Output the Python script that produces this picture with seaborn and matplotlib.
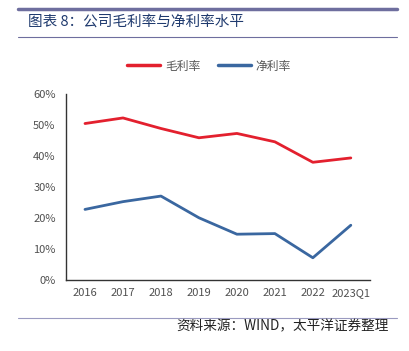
import numpy as np
import pandas as pd
import matplotlib
matplotlib.use("Agg")
import matplotlib.pyplot as plt
import seaborn as sns
from matplotlib.ticker import FuncFormatter, MultipleLocator

# 数据
years = ["2016", "2017", "2018", "2019", "2020", "2021", "2022", "2023Q1"]
gross_margin = [50.5, 52.3, 48.9, 45.9, 47.3, 44.6, 38.0, 39.4]
net_margin = [22.8, 25.3, 27.1, 20.1, 14.8, 15.0, 7.2, 17.7]

df = pd.DataFrame({
    "year": years * 2,
    "value": gross_margin + net_margin,
    "series": ["毛利率"] * len(years) + ["净利率"] * len(years),
})
df["pos"] = list(range(len(years))) * 2

sns.set_style("white")
plt.rcParams['font.family'] = ['Noto Sans CJK SC', 'DejaVu Sans']

fig = plt.figure(figsize=(4.10, 3.51), dpi=100)
ax = fig.add_axes([0.161, 0.202, 0.741, 0.530])

sns.lineplot(data=df, x="pos", y="value", hue="series",
             palette={"毛利率": "#E3202E", "净利率": "#3A67A0"},
             linewidth=2, ax=ax, legend=False)

ax.set_xlim(-0.5, len(years) - 0.5)
ax.set_ylim(0, 60)
ax.yaxis.set_major_locator(MultipleLocator(10))
ax.yaxis.set_major_formatter(FuncFormatter(lambda v, p: f"{v:.0f}%"))
ax.set_xticks(range(len(years)))
ax.set_xticklabels(years)
ax.set_xticks(np.arange(-0.5, len(years)), minor=True)
ax.tick_params(axis="x", which="major", length=0, pad=6, labelsize=8, labelcolor="#505050")
ax.tick_params(axis="x", which="minor", length=4, width=1, color="#333333", direction="out")
ax.tick_params(axis="y", length=4, width=1, color="#333333", direction="out", labelsize=8, labelcolor="#505050")
ax.set_xlabel("")
ax.set_ylabel("")
for s in ["top", "right"]:
    ax.spines[s].set_visible(False)
for s in ["left", "bottom"]:
    ax.spines[s].set_color("#333333")
    ax.spines[s].set_linewidth(1)

# 图例
h1, = ax.plot([], [], color="#E3202E", lw=2.5, label="毛利率")
h2, = ax.plot([], [], color="#3A67A0", lw=2.5, label="净利率")
fig.legend(handles=[h1, h2], loc="center", bbox_to_anchor=(0.51, 0.812), ncol=2,
           frameon=False, fontsize=8.5, handlelength=2.8, columnspacing=1.5,
           handletextpad=0.4, labelcolor="#555555")

# 标题与线条
fig.add_artist(plt.Line2D([0.045, 0.968], [0.975, 0.975], color="#6E6E9E", lw=2.5))
fig.add_artist(plt.Line2D([0.045, 0.968], [0.895, 0.895], color="#6E6E9E", lw=0.8))
fig.text(0.068, 0.937, "图表 8：公司毛利率与净利率水平", fontsize=10.5,
         color="#1F3A6E", va="center", ha="left")
fig.add_artist(plt.Line2D([0.045, 0.968], [0.094, 0.094], color="#9A9AC0", lw=0.8))
fig.text(0.948, 0.070, "资料来源：WIND，太平洋证券整理", fontsize=9.8,
         color="#222222", va="center", ha="right", style="italic")

fig.savefig("out.png", dpi=100)
